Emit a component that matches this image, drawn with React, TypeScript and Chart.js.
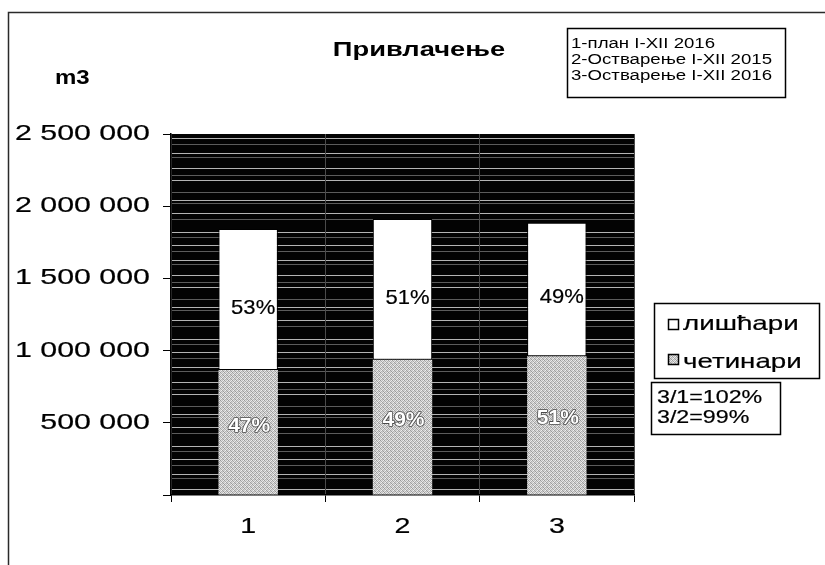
import React, { useEffect, useRef } from 'react';
import { Chart, registerables } from 'chart.js';

Chart.register(...registerables);

// ---- data ----
const categories = ['1', '2', '3'];
const coniferValues = [866000, 936000, 961000]; // четинари
const broadleafValues = [976000, 975000, 924000]; // лишћари
const yTickValues = [500000, 1000000, 1500000, 2000000, 2500000];
const seriesNames = ['лишћари', 'четинари'];
const periodNotes = ['1-план I-XII 2016', '2-Остварење I-XII 2015', '3-Остварење I-XII 2016'];
const ratioNotes = ['3/1=102%', '3/2=99%'];
const chartTitle = 'Привлачење';
const unitLabel = 'm3';

const FONT = '"Liberation Sans", Arial, sans-serif';

function fmt(v: number): string {
  return String(v).replace(/\B(?=(\d{3})+(?!\d))/g, ' ');
}

function pct(part: number, total: number): string {
  return Math.round((part / total) * 100) + '%';
}

function makeStipple(): CanvasPattern | string {
  const c = document.createElement('canvas');
  c.width = 4;
  c.height = 4;
  const g = c.getContext('2d');
  if (!g) return '#bcbcbc';
  const shades = [
    '#9a9a9a', '#e0e0e0', '#bcbcbc', '#ececec',
    '#d8d8d8', '#a8a8a8', '#e8e8e8', '#b0b0b0',
    '#c4c4c4', '#f0f0f0', '#a0a0a0', '#d4d4d4',
    '#e4e4e4', '#b4b4b4', '#d0d0d0', '#9c9c9c',
  ];
  for (let i = 0; i < 16; i++) {
    g.fillStyle = shades[i];
    g.fillRect(i % 4, Math.floor(i / 4), 1, 1);
  }
  return g.createPattern(c, 'repeat') || '#bcbcbc';
}

function drawText(
  ctx: CanvasRenderingContext2D,
  text: string,
  x: number,
  y: number,
  font: string,
  color: string,
  align: 'left' | 'right' | 'center',
  sx: number,
  stroke?: string,
  strokeWidth = 1.2
) {
  ctx.save();
  ctx.font = font;
  ctx.textBaseline = 'middle';
  ctx.textAlign = 'left';
  const w = ctx.measureText(text).width * sx;
  const x0 = align === 'left' ? x : align === 'right' ? x - w : x - w / 2;
  ctx.translate(x0, y);
  ctx.scale(sx, 1);
  if (stroke) {
    ctx.strokeStyle = stroke;
    ctx.lineWidth = strokeWidth;
    ctx.lineJoin = 'round';
    ctx.strokeText(text, 0, 0);
  }
  ctx.fillStyle = color;
  ctx.fillText(text, 0, 0);
  ctx.restore();
}

const lineGaps = [6, 9, 4, 11, 7, 5, 12, 8, 3, 10, 6, 13, 5, 8];

export default function App() {
  const ref = useRef<HTMLCanvasElement>(null);

  useEffect(() => {
    const canvas = ref.current;
    if (!canvas) return;
    const stipple = makeStipple();

    const decor = {
      id: 'decor',
      beforeDraw(chart: any) {
        const ctx: CanvasRenderingContext2D = chart.ctx;
        const a = chart.chartArea;
        ctx.save();
        // page frame
        ctx.strokeStyle = '#2a2a2a';
        ctx.lineWidth = 1.5;
        ctx.beginPath();
        ctx.moveTo(8.5, 565);
        ctx.lineTo(8.5, 12.5);
        ctx.lineTo(825, 12.5);
        ctx.stroke();
        // plot background (dark scanned texture)
        ctx.fillStyle = '#030303';
        ctx.fillRect(a.left, a.top, a.right - a.left, a.bottom - a.top);
        let y = a.top + 4;
        let k = 0;
        while (y < a.bottom - 1) {
          ctx.strokeStyle = k % 2 === 0 ? '#b4b4b4' : '#5c5c5c';
          ctx.lineWidth = 1;
          ctx.beginPath();
          ctx.moveTo(a.left, y + 0.5);
          ctx.lineTo(a.right, y + 0.5);
          ctx.stroke();
          y += lineGaps[k % lineGaps.length];
          k++;
        }
        ctx.restore();
      },
      afterDatasetsDraw(chart: any) {
        const ctx: CanvasRenderingContext2D = chart.ctx;
        const low = chart.getDatasetMeta(0).data;
        const high = chart.getDatasetMeta(1).data;
        for (let i = 0; i < categories.length; i++) {
          const total = coniferValues[i] + broadleafValues[i];
          const h = high[i];
          const l = low[i];
          if (h) {
            const yy = h.y + (h.base - h.y) * 0.56;
            drawText(ctx, pct(broadleafValues[i], total), h.x + 5, yy, `21px ${FONT}`, '#000', 'center', 1.05, '#000', 0.2);
          }
          if (l) {
            const yy = l.y + (l.base - l.y) * 0.45;
            drawText(ctx, pct(coniferValues[i], total), l.x + 1, yy, `bold 21px ${FONT}`, '#fff', 'center', 1.0, '#4a4a4a', 1.6);
          }
        }
      },
      afterDraw(chart: any) {
        const ctx: CanvasRenderingContext2D = chart.ctx;
        const ys = chart.scales.y;
        const xs = chart.scales.x;
        // title & unit
        drawText(ctx, chartTitle, 419, 50, `bold 21px ${FONT}`, '#000', 'center', 1.3);
        drawText(ctx, unitLabel, 55, 78, `bold 20px ${FONT}`, '#000', 'left', 1.2);
        // y labels
        yTickValues.forEach((v) => {
          drawText(ctx, fmt(v), 150, ys.getPixelForValue(v), `22px ${FONT}`, '#000', 'right', 1.38, '#000', 0.2);
        });
        // x labels
        categories.forEach((c, i) => {
          drawText(ctx, c, xs.getPixelForTick(i), 527, `22px ${FONT}`, '#000', 'center', 1.3, '#000', 0.2);
        });
        ctx.save();
        ctx.strokeStyle = '#000';
        ctx.lineWidth = 1.5;
        // period notes box
        ctx.strokeRect(567.5, 28.5, 218, 69);
        ctx.restore();
        periodNotes.forEach((t, i) => {
          drawText(ctx, t, 571, 44 + i * 16, `14px ${FONT}`, '#000', 'left', 1.33);
        });
        // series legend box
        ctx.save();
        ctx.strokeStyle = '#000';
        ctx.lineWidth = 1.5;
        ctx.strokeRect(654.5, 303.5, 165, 75);
        ctx.fillStyle = '#fff';
        ctx.fillRect(668, 319, 11, 10);
        ctx.strokeRect(668.5, 319.5, 10, 10);
        ctx.fillStyle = stipple as any;
        ctx.fillRect(668, 354, 11, 10);
        ctx.strokeRect(668.5, 354.5, 10, 10);
        ctx.restore();
        seriesNames.forEach((t, i) => {
          drawText(ctx, t, 683, 324 + i * 38, `21px ${FONT}`, '#000', 'left', 1.32, '#000', 0.2);
        });
        // ratio box
        ctx.save();
        ctx.strokeStyle = '#000';
        ctx.lineWidth = 1.5;
        ctx.strokeRect(651.5, 382.5, 129, 52);
        ctx.restore();
        ratioNotes.forEach((t, i) => {
          drawText(ctx, t, 657, 398 + i * 20, `18px ${FONT}`, '#000', 'left', 1.29, '#000', 0.2);
        });
      },
    };

    const chart = new Chart(canvas, {
      type: 'bar',
      data: {
        labels: categories,
        datasets: [
          {
            label: seriesNames[1],
            data: coniferValues,
            backgroundColor: stipple as any,
            borderWidth: 0,
            barPercentage: 0.385,
            categoryPercentage: 1,
          },
          {
            label: seriesNames[0],
            data: broadleafValues,
            backgroundColor: '#ffffff',
            borderColor: '#000000',
            borderWidth: 1,
            borderSkipped: false,
            barPercentage: 0.385,
            categoryPercentage: 1,
          },
        ],
      },
      options: {
        animation: false,
        responsive: false,
        events: [],
        layout: { padding: { left: 171, right: 191, top: 134, bottom: 70 } },
        plugins: {
          legend: { display: false },
          tooltip: { enabled: false },
          title: { display: false },
        },
        scales: {
          x: {
            stacked: true,
            grid: {
              display: true,
              drawOnChartArea: true,
              color: '#4a4a4a',
              tickColor: '#000',
              tickLength: 7,
              offset: true,
            },
            border: { display: true, color: '#000', width: 1.5 },
            ticks: { display: false },
            afterFit: (s: any) => {
              s.height = 0;
            },
          },
          y: {
            stacked: true,
            min: 0,
            max: 2500000,
            ticks: { display: false, stepSize: 500000 },
            grid: { drawOnChartArea: false, tickColor: '#000', tickLength: 8 },
            border: { display: true, color: '#000', width: 1.5 },
            afterFit: (s: any) => {
              s.width = 0;
            },
          },
        },
      },
      plugins: [decor],
    });
    return () => chart.destroy();
  }, []);

  return (
    <div style={{ position: 'absolute', left: 0, top: 0, width: 825, height: 565, background: '#fff' }}>
      <canvas ref={ref} width={825} height={565} style={{ display: 'block' }} />
    </div>
  );
}
